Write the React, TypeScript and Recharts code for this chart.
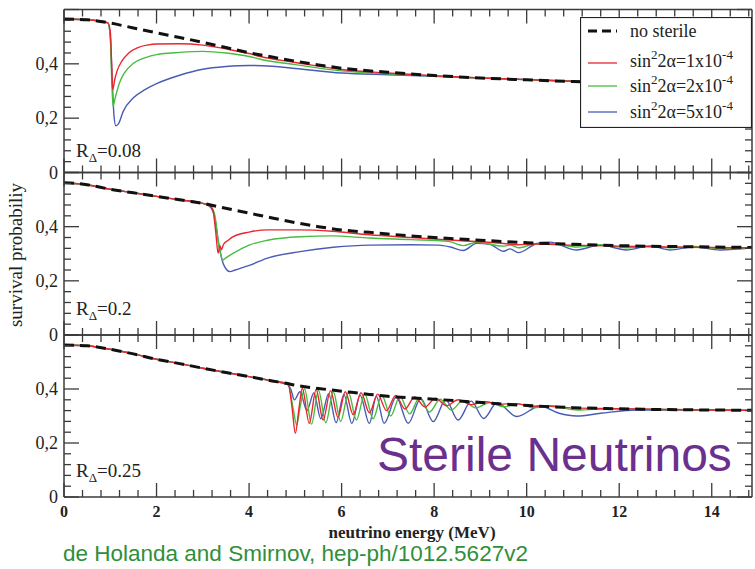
import { LineChart, Line, XAxis, YAxis, Legend } from 'recharts';

type Pt = [number, number];

// [energy MeV, survival probability]
// ---- R_Δ = 0.08 ----
const noSterileA: Pt[] = [
  [0, 0.565], [0.5, 0.562], [1, 0.55], [1.5, 0.532], [2, 0.514], [2.5, 0.497], [3, 0.479],
  [3.5, 0.46], [4, 0.441], [4.5, 0.425], [5, 0.41], [5.5, 0.396], [6, 0.384], [7, 0.369],
  [8, 0.357], [9, 0.348], [10, 0.341], [11, 0.335], [12, 0.331], [13, 0.327], [14, 0.324], [14.87, 0.322],
];
const red1A: Pt[] = [
  [0, 0.565], [0.5, 0.562], [0.95, 0.551], [1.0, 0.52], [1.03, 0.4], [1.05, 0.305], [1.1, 0.345],
  [1.15, 0.375], [1.25, 0.41], [1.4, 0.44], [1.6, 0.46], [1.8, 0.469], [2, 0.473], [2.5, 0.474],
  [3, 0.469], [3.5, 0.455], [4, 0.438], [4.24, 0.427], [5, 0.405], [6, 0.379], [7, 0.366],
  [8, 0.356], [9, 0.348], [10, 0.342], [11, 0.336], [12, 0.331], [13, 0.327], [14, 0.324], [14.87, 0.322],
];
const green2A: Pt[] = [
  [0, 0.565], [0.5, 0.562], [0.95, 0.551], [1.0, 0.5], [1.03, 0.35], [1.06, 0.243], [1.1, 0.27],
  [1.2, 0.33], [1.3, 0.365], [1.5, 0.402], [1.75, 0.422], [2, 0.434], [2.5, 0.442], [3, 0.446],
  [3.5, 0.44], [4, 0.427], [4.24, 0.417], [5, 0.397], [6, 0.374], [7, 0.363], [8, 0.355],
  [9, 0.348], [10, 0.342], [11, 0.336], [12, 0.331], [13, 0.327], [14, 0.324], [14.87, 0.322],
];
const blue5A: Pt[] = [
  [0, 0.565], [0.5, 0.562], [0.95, 0.551], [1.0, 0.5], [1.04, 0.35], [1.08, 0.21], [1.12, 0.172],
  [1.18, 0.18], [1.28, 0.225], [1.5, 0.275], [1.75, 0.305], [2, 0.327], [2.5, 0.358], [3, 0.38],
  [3.5, 0.39], [4, 0.394], [4.5, 0.391], [5, 0.383], [6, 0.366], [7, 0.36], [8, 0.354],
  [9, 0.348], [10, 0.342], [11, 0.336], [12, 0.331], [13, 0.327], [14, 0.324], [14.87, 0.322],
];

// ---- R_Δ = 0.2 ----
const noSterileB: Pt[] = [
  [0, 0.562], [0.5, 0.555], [1, 0.538], [1.5, 0.525], [2, 0.512], [2.5, 0.499], [3, 0.486],
  [3.3, 0.475], [3.66, 0.462], [4, 0.45], [4.5, 0.432], [5, 0.415], [5.5, 0.4], [6, 0.388],
  [6.6, 0.379], [7, 0.373], [8, 0.36], [9, 0.35], [9.5, 0.345], [10, 0.341], [11, 0.335],
  [12, 0.33], [13, 0.327], [14, 0.325], [14.87, 0.323],
];
const red1B: Pt[] = [
  [0, 0.562], [0.5, 0.555], [1, 0.538], [1.5, 0.525], [2, 0.512], [2.5, 0.499], [3, 0.486],
  [3.15, 0.478], [3.22, 0.46], [3.28, 0.38], [3.33, 0.302], [3.37, 0.33], [3.4, 0.315],
  [3.45, 0.335], [3.55, 0.35], [3.66, 0.363], [4, 0.38], [4.4, 0.388], [5.1, 0.388],
  [5.8, 0.383], [6.6, 0.37], [7.5, 0.36], [8.6, 0.348], [9.5, 0.338], [9.8, 0.333],
  [10.2, 0.336], [11, 0.332], [12, 0.328], [13, 0.325], [14, 0.323], [14.87, 0.322],
];
const green2B: Pt[] = [
  [0, 0.562], [0.5, 0.555], [1, 0.538], [1.5, 0.525], [2, 0.512], [2.5, 0.499], [3, 0.486],
  [3.15, 0.478], [3.25, 0.45], [3.35, 0.33], [3.43, 0.277], [3.5, 0.285], [3.66, 0.302],
  [4, 0.332], [4.4, 0.35], [5.1, 0.363], [5.8, 0.366], [6.6, 0.358], [7.5, 0.352], [8.3, 0.346],
  [8.63, 0.33], [8.9, 0.342], [9.5, 0.328], [9.65, 0.332], [9.82, 0.322], [10.2, 0.337],
  [10.5, 0.338], [11.1, 0.325], [11.6, 0.333], [12.2, 0.322], [12.7, 0.329], [13.1, 0.322],
  [13.6, 0.327], [14.2, 0.319], [14.87, 0.322],
];
const blue5B: Pt[] = [
  [0, 0.562], [0.5, 0.555], [1, 0.538], [1.5, 0.525], [2, 0.512], [2.5, 0.499], [3, 0.486],
  [3.15, 0.475], [3.25, 0.44], [3.35, 0.33], [3.45, 0.26], [3.59, 0.234], [3.7, 0.24],
  [4.02, 0.258], [4.38, 0.283], [5.1, 0.308], [5.82, 0.324], [6.62, 0.332], [7.5, 0.333],
  [8.1, 0.332], [8.35, 0.325], [8.63, 0.312], [8.92, 0.339], [9.2, 0.335], [9.5, 0.309],
  [9.64, 0.318], [9.82, 0.304], [10.22, 0.338], [10.5, 0.343], [11.08, 0.314], [11.59, 0.332],
  [12.16, 0.314], [12.67, 0.329], [13.1, 0.314], [13.6, 0.326], [14.18, 0.314], [14.87, 0.322],
];

// ---- R_Δ = 0.25 ----
const noSterileC: Pt[] = [
  [0, 0.563], [0.5, 0.56], [1, 0.547], [1.5, 0.53], [2, 0.51], [2.5, 0.494], [3, 0.477],
  [3.5, 0.461], [4, 0.446], [4.5, 0.43], [4.8, 0.421], [5, 0.414], [5.5, 0.402], [6, 0.392],
  [6.6, 0.38], [7, 0.373], [8, 0.362], [8.78, 0.353], [9.5, 0.344], [10.22, 0.337], [11, 0.331],
  [11.66, 0.328], [12.5, 0.325], [13.5, 0.323], [14.87, 0.321],
];
const red1C: Pt[] = [
  [0, 0.563], [0.5, 0.56], [1, 0.547], [1.5, 0.53], [2, 0.51], [2.5, 0.494], [3, 0.477],
  [3.5, 0.461], [4, 0.446], [4.5, 0.43], [4.85, 0.415], [4.93, 0.33], [5.0, 0.236], [5.08, 0.33],
  [5.15, 0.403], [5.3, 0.273], [5.45, 0.398], [5.6, 0.285], [5.76, 0.394], [5.92, 0.295],
  [6.08, 0.39], [6.25, 0.305], [6.42, 0.386], [6.6, 0.312], [6.78, 0.381], [6.97, 0.32],
  [7.17, 0.376], [7.37, 0.326], [7.58, 0.371], [7.8, 0.333], [8.03, 0.366], [8.27, 0.338],
  [8.52, 0.36], [8.8, 0.342], [9.1, 0.353], [9.4, 0.344], [9.75, 0.346], [10.1, 0.336],
  [10.4, 0.338], [11, 0.33], [12, 0.327], [13, 0.324], [14, 0.322], [14.87, 0.321],
];
const green2C: Pt[] = [
  [0, 0.563], [0.5, 0.56], [1, 0.547], [1.5, 0.53], [2, 0.51], [2.5, 0.494], [3, 0.477],
  [3.5, 0.461], [4, 0.446], [4.5, 0.43], [4.85, 0.415], [4.95, 0.33], [5.03, 0.267], [5.1, 0.33],
  [5.2, 0.4], [5.35, 0.27], [5.5, 0.395], [5.66, 0.275], [5.82, 0.39], [5.98, 0.28], [6.15, 0.386],
  [6.32, 0.285], [6.5, 0.382], [6.68, 0.29], [6.87, 0.377], [7.06, 0.3], [7.26, 0.372],
  [7.47, 0.308], [7.68, 0.367], [7.9, 0.315], [8.13, 0.362], [8.37, 0.322], [8.62, 0.357],
  [8.9, 0.33], [9.2, 0.35], [9.5, 0.334], [9.82, 0.345], [10.15, 0.33], [10.5, 0.336],
  [11.1, 0.322], [11.8, 0.327], [12.5, 0.325], [13.5, 0.323], [14.87, 0.321],
];
const blue5C: Pt[] = [
  [0, 0.563], [0.5, 0.56], [1, 0.547], [1.5, 0.53], [2, 0.51], [2.5, 0.494], [3, 0.477],
  [3.5, 0.461], [4, 0.446], [4.5, 0.43], [4.8, 0.421], [4.9, 0.4], [4.98, 0.36], [5.1, 0.39],
  [5.25, 0.32], [5.4, 0.385], [5.55, 0.29], [5.72, 0.383], [5.88, 0.275], [6.05, 0.38],
  [6.22, 0.272], [6.4, 0.377], [6.6, 0.272], [6.75, 0.373], [6.92, 0.273], [7.18, 0.37],
  [7.44, 0.273], [7.71, 0.365], [7.98, 0.279], [8.25, 0.36], [8.52, 0.285], [8.8, 0.355],
  [9.07, 0.291], [9.36, 0.349], [9.79, 0.298], [10.29, 0.337], [10.7, 0.31], [11.08, 0.3],
  [11.6, 0.31], [12.38, 0.322], [13.5, 0.322], [14.87, 0.321],
];

const legendLabels = ['no sterile', '1x10', '2x10', '5x10'];
const panelLabels = ['0.08', '0.2', '0.25'];

const X_MAX = 14.87;
const xTicks = Array.from({ length: 38 }, (_, i) => +(i * 0.4).toFixed(1));
const yTicks = Array.from({ length: 16 }, (_, i) => +(i * 0.04).toFixed(2));

const SERIF = '"Liberation Serif", "DejaVu Serif", serif';
const SANS = '"Liberation Sans", Arial, sans-serif';
const FRAME = '#3a3a3a';

const COLORS = { none: '#111111', red: '#e8262d', green: '#47bd3f', blue: '#4a5bb5' };

const toRows = (pts: Pt[]) => pts.map(([e, p]) => ({ e, p }));

const isMult = (v: number, step: number) => Math.abs(v / step - Math.round(v / step)) < 1e-6;

// inward ticks along the top/bottom frame, labels only below the last panel
const xTick = (side: 'top' | 'bottom', labels: boolean) => (props: any) => {
  const { x, y, payload } = props;
  const major = isMult(payload.value, 2);
  const len = major ? 14 : 7;
  const dir = side === 'bottom' ? -1 : 1;
  return (
    <g>
      <line x1={x} x2={x} y1={y} y2={y + dir * len} stroke={FRAME} strokeWidth={1.3} />
      {labels && major && (
        <text x={x} y={y + 20} textAnchor="middle" fontFamily={SERIF} fontWeight="bold" fontSize={16} fill="#222">
          {payload.value}
        </text>
      )}
    </g>
  );
};

const yTick = (side: 'left' | 'right') => (props: any) => {
  const { x, y, payload } = props;
  const v = payload.value;
  const major = isMult(v, 0.2);
  const len = major ? 15 : 7;
  const dir = side === 'left' ? 1 : -1;
  const label = v === 0 ? '0' : v.toFixed(1).replace('.', ',');
  return (
    <g>
      <line x1={x} x2={x + dir * len} y1={y} y2={y} stroke={FRAME} strokeWidth={1.3} />
      {side === 'left' && major && v < 0.59 && (
        <text x={x - 6} y={y + 6} textAnchor="end" fontFamily={SERIF} fontSize={18} fill="#222">
          {label}
        </text>
      )}
    </g>
  );
};

const LegendBox = () => {
  const rows = [
    { color: COLORS.none, dash: '9 5', w: 3, ly: 14, ty: 20 },
    { color: COLORS.red, dash: undefined, w: 1.3, ly: 46, ty: 50 },
    { color: COLORS.green, dash: undefined, w: 1.3, ly: 69, ty: 75 },
    { color: COLORS.blue, dash: undefined, w: 1.3, ly: 95, ty: 101 },
  ];
  return (
    <svg width={172} height={111} style={{ display: 'block' }}>
      <rect x={0.5} y={0.5} width={171} height={110} fill="#fff" stroke="#222" strokeWidth={1.2} />
      {rows.map((r, i) => (
        <g key={i}>
          <line x1={8} x2={37} y1={r.ly} y2={r.ly} stroke={r.color} strokeWidth={r.w} strokeDasharray={r.dash} />
          <text x={50} y={r.ty} fontFamily={SERIF} fontSize={18} fill="#222">
            {i === 0 ? (
              legendLabels[0]
            ) : (
              <>
                sin<tspan dy={-8} fontSize={13}>2</tspan>
                <tspan dy={8}>2α={legendLabels[i]}</tspan>
                <tspan dy={-8} fontSize={13}>-4</tspan>
              </>
            )}
          </text>
        </g>
      ))}
    </svg>
  );
};

type Series = { pts: Pt[]; color: string; dashed?: boolean };

type PanelProps = {
  series: Series[];
  top: number;
  height: number;
  marginTop: number;
  marginBottom: number;
  xLabels?: boolean;
  legend?: boolean;
};

// axes are 1px thick boxes so the frame sits exactly on the plot edges
const Panel = ({ series, top, height, marginTop, marginBottom, xLabels = false, legend = false }: PanelProps) => (
  <div style={{ position: 'absolute', left: 0, top }}>
    <LineChart width={755} height={height} margin={{ top: marginTop - 1, right: 2, bottom: marginBottom - 1, left: 63 }}>
      <XAxis
        xAxisId="b"
        type="number"
        dataKey="e"
        domain={[0, X_MAX]}
        ticks={xTicks}
        interval={0}
        height={1}
        tickSize={0}
        tickMargin={0}
        tickLine={false}
        allowDataOverflow
        axisLine={{ stroke: FRAME, strokeWidth: 1.5 }}
        tick={xTick('bottom', xLabels)}
      />
      <XAxis
        xAxisId="t"
        orientation="top"
        type="number"
        dataKey="e"
        domain={[0, X_MAX]}
        ticks={xTicks}
        interval={0}
        height={1}
        tickSize={0}
        tickMargin={0}
        tickLine={false}
        allowDataOverflow
        axisLine={{ stroke: FRAME, strokeWidth: 1.5 }}
        tick={xTick('top', false)}
      />
      <YAxis
        yAxisId="l"
        type="number"
        domain={[0, 0.6]}
        ticks={yTicks}
        interval={0}
        width={1}
        tickSize={0}
        tickMargin={0}
        tickLine={false}
        allowDataOverflow
        axisLine={{ stroke: FRAME, strokeWidth: 1.5 }}
        tick={yTick('left')}
      />
      <YAxis
        yAxisId="r"
        orientation="right"
        type="number"
        domain={[0, 0.6]}
        ticks={yTicks}
        interval={0}
        width={1}
        tickSize={0}
        tickMargin={0}
        tickLine={false}
        allowDataOverflow
        axisLine={{ stroke: FRAME, strokeWidth: 1.5 }}
        tick={yTick('right')}
      />
      {series.map((s, i) => (
        <Line
          key={i}
          xAxisId="b"
          yAxisId="l"
          data={toRows(s.pts)}
          dataKey="p"
          type="monotone"
          stroke={s.color}
          strokeWidth={s.dashed ? 3 : 1.4}
          strokeDasharray={s.dashed ? '10 6' : undefined}
          dot={false}
          activeDot={false}
          isAnimationActive={false}
        />
      ))}
      {legend && (
        <Legend
          layout="horizontal"
          verticalAlign="middle"
          wrapperStyle={{ left: 580, top: 17, width: 172, height: 111 }}
          content={() => <LegendBox />}
        />
      )}
    </LineChart>
  </div>
);

const build = (none: Pt[], r: Pt[], g: Pt[], b: Pt[]): Series[] => [
  { pts: b, color: COLORS.blue },
  { pts: g, color: COLORS.green },
  { pts: r, color: COLORS.red },
  { pts: none, color: COLORS.none, dashed: true },
];

const RLabel = ({ x, y, value }: { x: number; y: number; value: string }) => (
  <text x={x} y={y} fontFamily={SERIF} fontSize={19} fill="#222">
    R<tspan dy={5} fontSize={13}>Δ</tspan>
    <tspan dy={-5}>={value}</tspan>
  </text>
);

export default function App() {
  return (
    <div style={{ position: 'absolute', left: 0, top: 0, width: 755, height: 569, background: '#fff' }}>
      <Panel series={build(noSterileC, red1C, green2C, blue5C)} top={325} height={244} marginTop={10} marginBottom={72} xLabels />
      <Panel series={build(noSterileB, red1B, green2B, blue5B)} top={163} height={195} marginTop={9.5} marginBottom={23} />
      <Panel series={build(noSterileA, red1A, green2A, blue5A)} top={0} height={195} marginTop={9.5} marginBottom={22.5} legend />
      <svg width={755} height={569} style={{ position: 'absolute', left: 0, top: 0, pointerEvents: 'none' }}>
        <RLabel x={76} y={157} value={panelLabels[0]} />
        <RLabel x={76} y={315} value={panelLabels[1]} />
        <RLabel x={76} y={477} value={panelLabels[2]} />
        <text
          transform="translate(22 255) rotate(-90)"
          textAnchor="middle"
          fontFamily={SERIF}
          fontSize={19}
          fill="#222"
        >
          survival probabiliy
        </text>
        <text x={412} y={538} textAnchor="middle" fontFamily={SERIF} fontWeight="bold" fontSize={17} fill="#222">
          neutrino energy (MeV)
        </text>
        <text x={377} y={471} fontFamily={SANS} fontSize={48} fill="#6b2f8e">
          Sterile Neutrinos
        </text>
        <text x={63} y={561} fontFamily={SANS} fontSize={22.5} fill="#2f8f3a">
          de Holanda and Smirnov, hep-ph/1012.5627v2
        </text>
      </svg>
    </div>
  );
}
